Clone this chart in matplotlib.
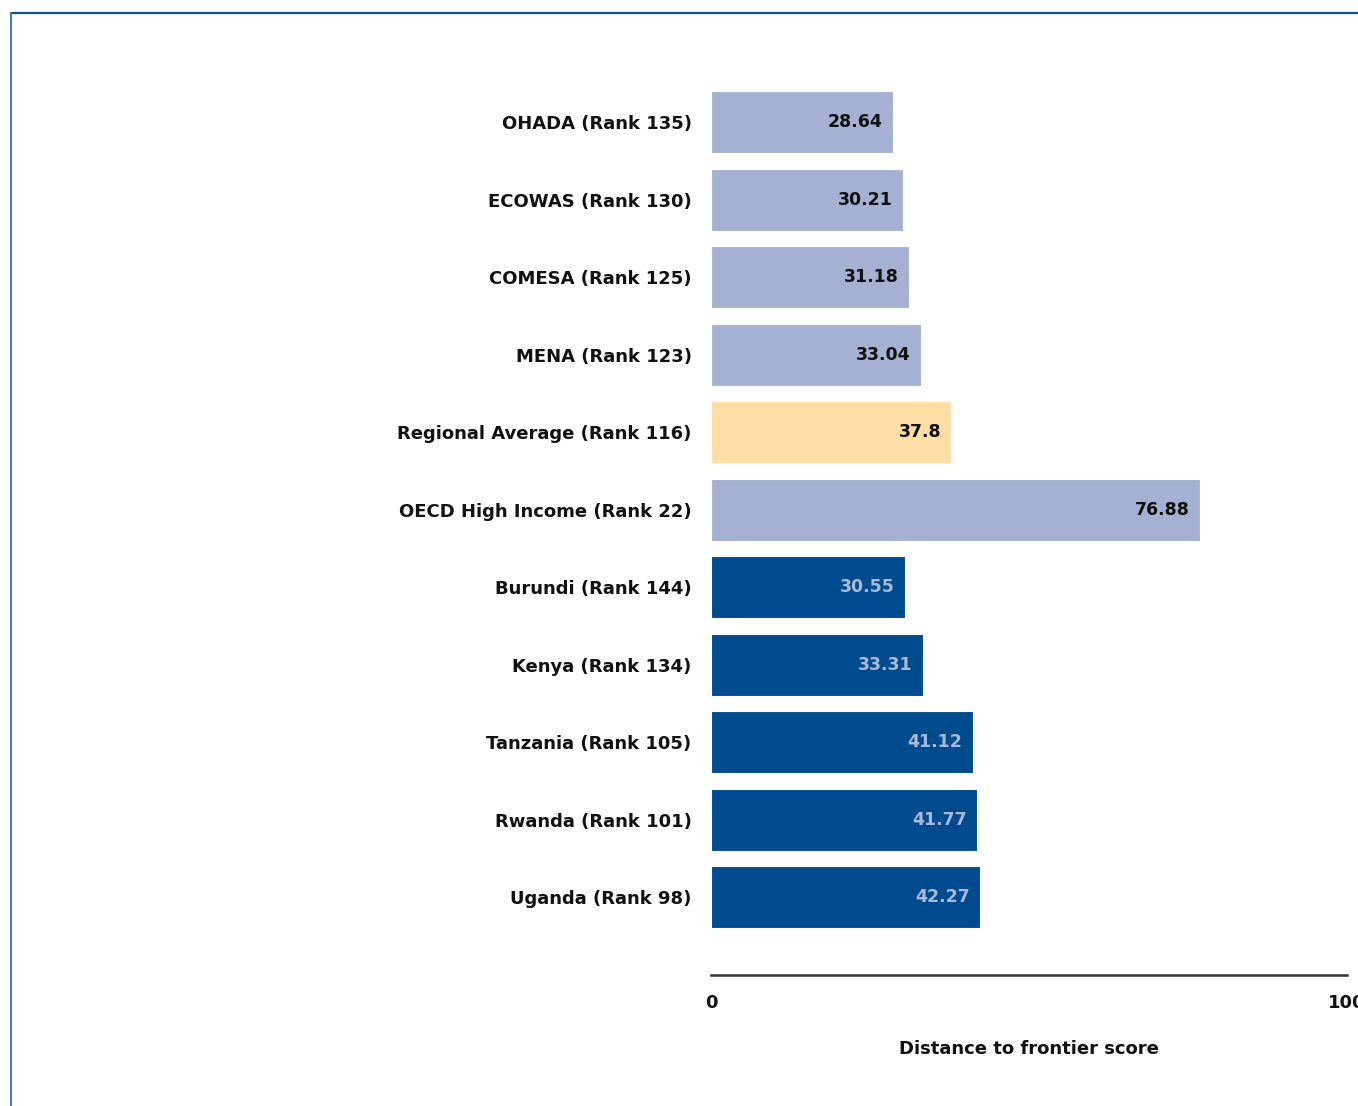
import matplotlib
matplotlib.use("Agg")
import matplotlib.pyplot as plt
from matplotlib.lines import Line2D

categories = ["OHADA (Rank 135)", "ECOWAS (Rank 130)", "COMESA (Rank 125)", "MENA (Rank 123)",
              "Regional Average (Rank 116)", "OECD High Income (Rank 22)", "Burundi (Rank 144)",
              "Kenya (Rank 134)", "Tanzania (Rank 105)", "Rwanda (Rank 101)", "Uganda (Rank 98)"]
values = [28.64, 30.21, 31.18, 33.04, 37.8, 76.88, 30.55, 33.31, 41.12, 41.77, 42.27]
value_labels = ["28.64", "30.21", "31.18", "33.04", "37.8", "76.88", "30.55", "33.31", "41.12", "41.77", "42.27"]
groups = ["comp", "comp", "comp", "comp", "avg", "comp", "econ", "econ", "econ", "econ", "econ"]

bar_colors = {"comp": "#A4B1D3", "avg": "#FEDEA4", "econ": "#004B8D"}
text_colors = {"comp": "#111111", "avg": "#111111", "econ": "#A9B8D8"}

fig = plt.figure(figsize=(13.58, 11.06), dpi=100)
ax = fig.add_axes([711/1358, (1106-975)/1106, (1347-711)/1358, (975-75.5)/1106])

pos = list(range(len(categories)))
ax.barh(pos, values, height=0.8, color=[bar_colors[g] for g in groups],
        edgecolor="white", linewidth=0.8)
for p, v, lab, g in zip(pos, values, value_labels, groups):
    ax.text(v - 1.6, p, lab, ha="right", va="center", fontsize=12.5,
            fontweight="bold", color=text_colors[g])

ax.set_xlim(0, 100)
ax.set_ylim(11.0, -0.6)
ax.set_yticks(pos)
ax.set_yticklabels(categories, fontsize=13, fontweight="bold", color="#111111")
ax.tick_params(axis="y", length=0, pad=14)
ax.set_xticks([0, 100])
ax.set_xticklabels(["0", "100"], fontsize=13, fontweight="bold", color="#111111")
ax.tick_params(axis="x", length=0, pad=14)
for s in ["top", "right", "left"]:
    ax.spines[s].set_visible(False)
ax.spines["bottom"].set_color("#333333")
ax.spines["bottom"].set_linewidth(1.8)
ax.set_xlabel("Distance to frontier score", fontsize=13, fontweight="bold",
              color="#111111", labelpad=20)

# frame border
fig.add_artist(Line2D([11/1358, 1.0], [1-12.5/1106, 1-12.5/1106], color="#0B4F96", linewidth=1.6,
                      transform=fig.transFigure))
fig.add_artist(Line2D([11/1358, 11/1358], [1-12.5/1106, 0.0], color="#3F78B8", linewidth=1.4,
                      transform=fig.transFigure))

fig.savefig("out.png", dpi=100)
